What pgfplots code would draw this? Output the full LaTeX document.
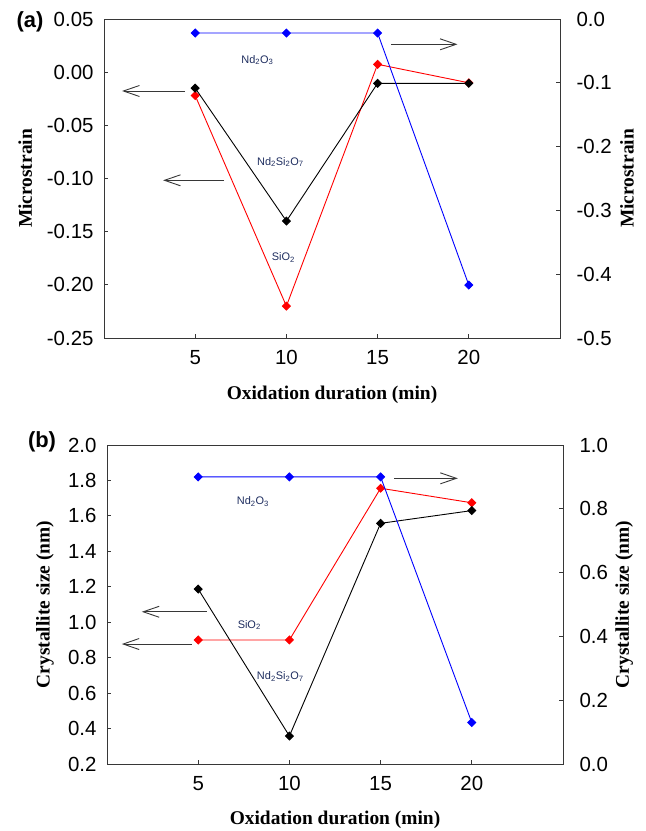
\documentclass[border=0pt]{standalone}
\usepackage{fontspec}
\setmainfont{Liberation Sans}
\newfontfamily\timesfont{Liberation Serif}
\usepackage{pgfplots}
\pgfplotsset{compat=1.18}
\usetikzlibrary{arrows.meta}
\definecolor{lblcol}{RGB}{30,45,95}
\definecolor{axcol}{RGB}{55,55,55}
\pgfplotsset{
  base/.style={scale only axis, width=456bp, height=319bp, xmin=0, xmax=25,
    tick align=inside, major tick length=4bp,
    axis line style={axcol, line width=0.9bp}, tick style={axcol, line width=0.9bp},
    tick label style={font=\fontsize{20.5}{22}\selectfont},
    xticklabel style={yshift=-9bp},
    /pgf/number format/assume math mode=true,
    label style={font=\fontsize{19.5}{22}\timesfont\bfseries},
    clip=false},
  ser/.style={#1, line width=0.9bp, mark=square*, mark size=2.8bp, mark options={solid, rotate=45, fill=#1}},
}
\tikzset{
  arr/.style={axcol, line width=0.9bp, -{Straight Barb[length=16bp,width=11bp]}},
  lbl/.style={font=\fontsize{11}{12}\selectfont, text=lblcol},
}
\begin{document}
\begin{tikzpicture}
\path[use as bounding box] (0,0) rectangle (646bp,-831bp);
\node[font=\fontsize{22}{24}\selectfont\bfseries] at (30bp,-22bp) {(a)};
\node[font=\fontsize{22}{24}\selectfont\bfseries] at (42bp,-442bp) {(b)};
% ---------- panel (a) ----------
\begin{axis}[base, at={(104bp,-338bp)}, anchor=south west,
  xtick={5,10,15,20}, xtick pos=bottom, ytick pos=left,
  ymin=-0.25, ymax=0.05, ytick={-0.25,-0.20,-0.15,-0.10,-0.05,0,0.05},
  yticklabel style={xshift=-7bp, /pgf/number format/.cd, fixed, fixed zerofill, precision=2},
  xlabel={Oxidation duration (min)}, ylabel={Microstrain},
  xlabel style={at={(axis description cs:0.5,-0.179)}, anchor=center},
  ylabel style={at={(axis description cs:-0.173,0.5)}, anchor=center},
]
\addplot[ser=red] coordinates {(5,-0.022) (10,-0.22) (15,0.0074) (20,-0.010)};
\addplot[ser=black] coordinates {(5,-0.015) (10,-0.14) (15,-0.0105) (20,-0.0105)};
\draw[arr] (axis cs:4.45,-0.0177) -- (axis cs:0.99,-0.0177);
\draw[arr] (axis cs:6.59,-0.1017) -- (axis cs:3.24,-0.1017);
\draw[arr] (axis cs:15.75,0.0262) -- (axis cs:19.38,0.0262);
\node[lbl] at (axis cs:8.41,0.0114) {Nd\textsubscript{2}O\textsubscript{3}};
\node[lbl] at (axis cs:9.67,-0.0845) {Nd\textsubscript{2}Si\textsubscript{2}O\textsubscript{7}};
\node[lbl] at (axis cs:9.83,-0.1745) {SiO\textsubscript{2}};
\end{axis}
\begin{axis}[base, at={(104bp,-338bp)}, anchor=south west,
  axis x line=none, axis y line*=right,
  ymin=-0.5, ymax=0, ytick={-0.5,-0.4,-0.3,-0.2,-0.1,0},
  yticklabel style={xshift=13bp, /pgf/number format/.cd, fixed, fixed zerofill, precision=1},
  ylabel={Microstrain},
  ylabel style={at={(axis description cs:1.147,0.5)}, anchor=center},
]
\addplot[ser=blue] coordinates {(5,-0.022) (10,-0.022) (15,-0.022) (20,-0.417)};
\end{axis}
% ---------- panel (b) ----------
\begin{axis}[base, at={(107bp,-764bp)}, anchor=south west,
  xtick={5,10,15,20}, xtick pos=bottom, ytick pos=left,
  ymin=0.2, ymax=2.0, ytick={0.2,0.4,0.6,0.8,1.0,1.2,1.4,1.6,1.8,2.0},
  yticklabel style={xshift=-7bp, /pgf/number format/.cd, fixed, fixed zerofill, precision=1},
  xlabel={Oxidation duration (min)}, ylabel={Crystallite size (nm)},
  xlabel style={at={(axis description cs:0.5,-0.176)}, anchor=center},
  ylabel style={at={(axis description cs:-0.136,0.5)}, anchor=center},
]
\addplot[ser=red] coordinates {(5,0.90) (10,0.90) (15,1.756) (20,1.674)};
\addplot[ser=black] coordinates {(5,1.187) (10,0.358) (15,1.558) (20,1.63)};
\draw[arr] (axis cs:15.75,1.812) -- (axis cs:19.23,1.812);
\draw[arr] (axis cs:5.48,1.059) -- (axis cs:1.91,1.059);
\draw[arr] (axis cs:4.65,0.877) -- (axis cs:0.81,0.877);
\node[lbl] at (axis cs:8.0,1.68) {Nd\textsubscript{2}O\textsubscript{3}};
\node[lbl] at (axis cs:7.8,0.984) {SiO\textsubscript{2}};
\node[lbl] at (axis cs:9.5,0.692) {Nd\textsubscript{2}Si\textsubscript{2}O\textsubscript{7}};
\end{axis}
\begin{axis}[base, at={(107bp,-764bp)}, anchor=south west,
  axis x line=none, axis y line*=right,
  ymin=0, ymax=1.0, ytick={0,0.2,0.4,0.6,0.8,1.0},
  yticklabel style={xshift=13bp, /pgf/number format/.cd, fixed, fixed zerofill, precision=1},
  ylabel={Crystallite size (nm)},
  ylabel style={at={(axis description cs:1.134,0.5)}, anchor=center},
]
\addplot[ser=blue] coordinates {(5,0.90) (10,0.90) (15,0.90) (20,0.13)};
\end{axis}
\end{tikzpicture}
\end{document}
